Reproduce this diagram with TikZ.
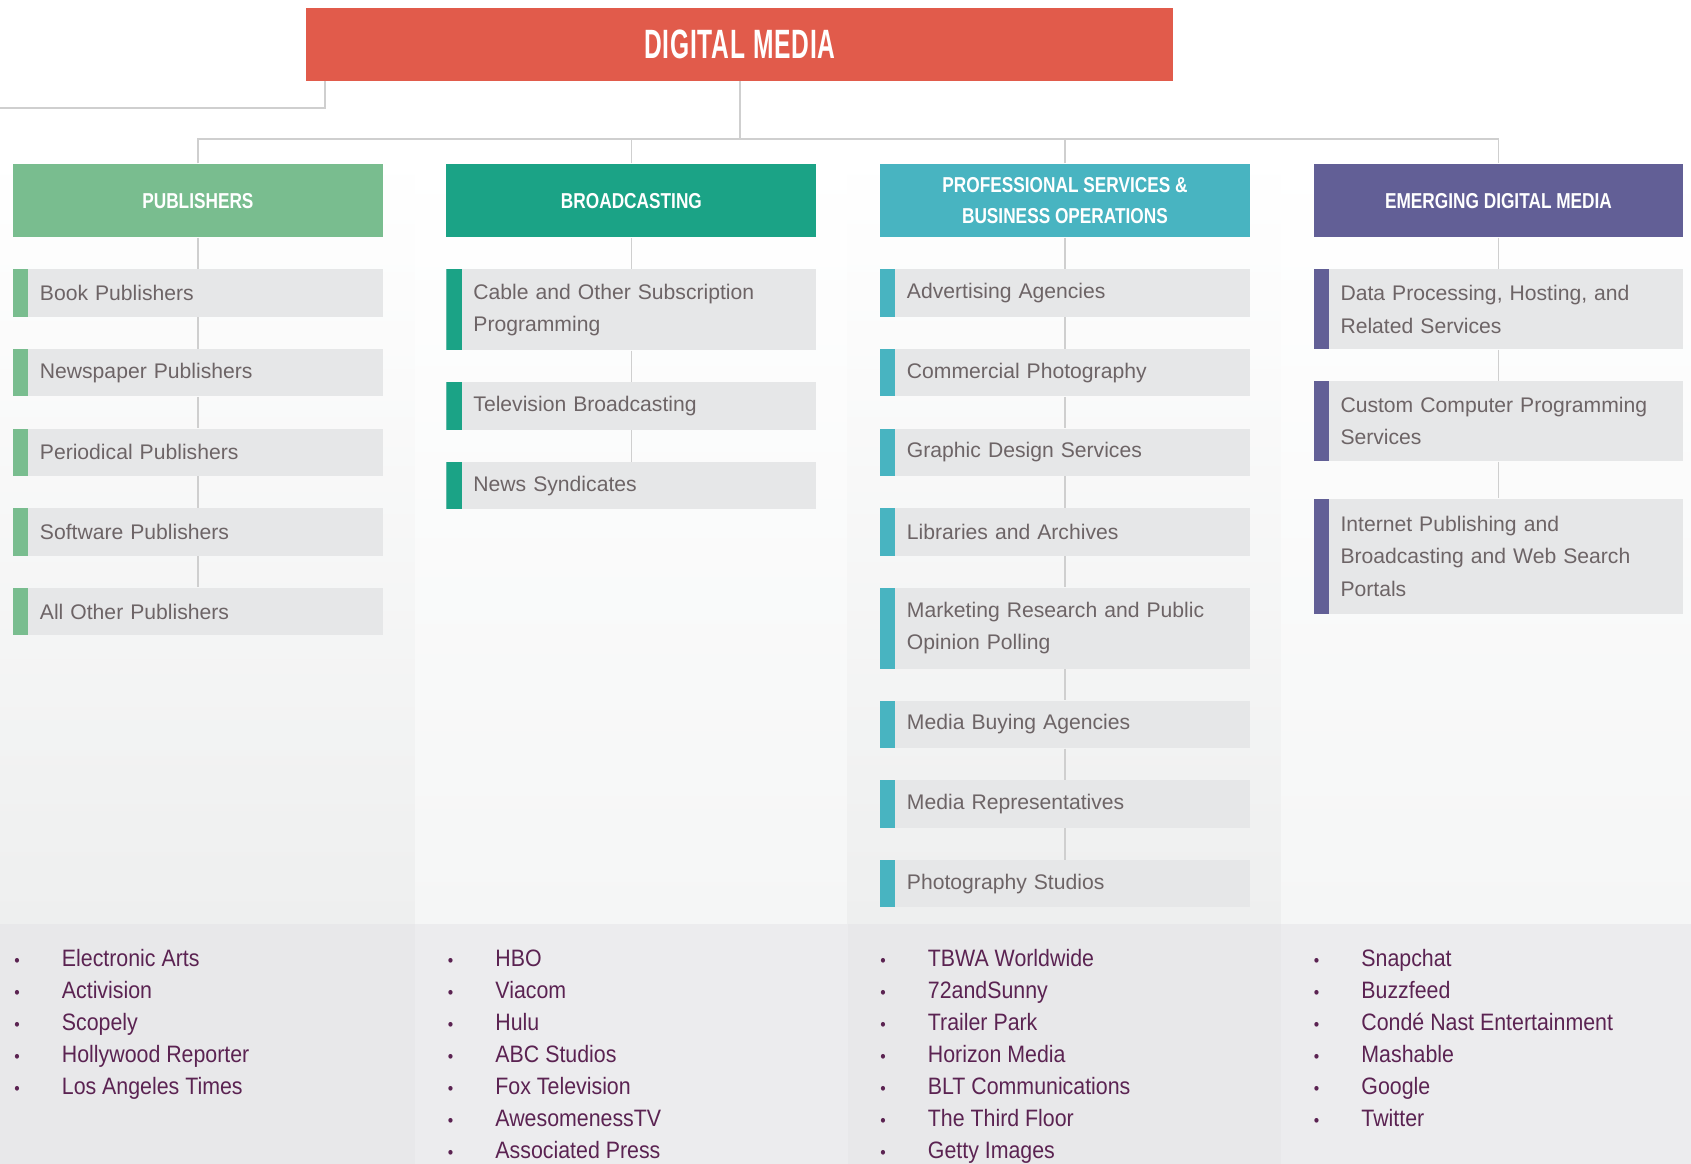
\documentclass[tikz,border=0pt]{standalone}
\usepackage{fontspec}
\setmainfont{Liberation Sans}
\newfontfamily\headfont[FakeStretch=0.8]{Liberation Sans}
\newfontfamily\titlefont[FakeStretch=0.6,LetterSpace=2]{Liberation Sans}
\newfontfamily\listfont[FakeStretch=0.9]{Liberation Sans}
\usepackage{tikz}
\usetikzlibrary{positioning}

\definecolor{mediared}{HTML}{E15B4B}
\definecolor{pubgreen}{HTML}{79BD8F}
\definecolor{brteal}{HTML}{1BA386}
\definecolor{procyan}{HTML}{48B4C1}
\definecolor{emgpurple}{HTML}{625F96}
\definecolor{itemgray}{HTML}{E6E7E8}
\definecolor{itemtext}{HTML}{6D6466}
\definecolor{listtext}{HTML}{5B2352}
\definecolor{linkgray}{HTML}{CFCFCF}
\definecolor{banddark}{HTML}{EEEFEF}
\definecolor{bandlight}{HTML}{F5F6F6}
\definecolor{footdark}{HTML}{E8E8EA}
\definecolor{footlight}{HTML}{ECECEE}

\newcommand{\blt}{\makebox[22pt][l]{\footnotesize\textbullet}}

\begin{document}
\begin{tikzpicture}[x=0.5pt, y=-0.5pt, node distance=14.5pt,
  head/.style={rectangle, fill=#1, minimum width=171.5pt, minimum height=34pt, inner sep=0pt, text=white, align=center, font=\headfont\bfseries\fontsize{10}{14.5}\selectfont},
  item/.style={rectangle, fill=itemgray, minimum width=171.5pt, minimum height=22pt, text width=146.5pt, inner xsep=12.5pt, inner ysep=6pt, align=left, text=itemtext, font=\fontsize{9.8}{15}\selectfont,
    path picture={\fill[#1] (path picture bounding box.south west) rectangle ([xshift=7pt]path picture bounding box.north west);}},
  tall/.style={minimum height=#1},
  link/.style={draw=linkgray, line width=0.8pt},
  list/.style={anchor=north west, inner sep=0pt, align=left, text=listtext, font=\listfont\fontsize{11}{14.85}\selectfont}]
  \useasboundingbox (0,0) rectangle (1568,1079);
  % background bands
  \fill[white] (0,0) rectangle (1568,1079);
  \shade[top color=white, bottom color=banddark] (0,140) rectangle (385,857);
  \shade[top color=white, bottom color=bandlight] (385,140) rectangle (786,857);
  \shade[top color=white, bottom color=banddark] (786,140) rectangle (1188,857);
  \shade[top color=white, bottom color=bandlight] (1188,140) rectangle (1568,857);
  \fill[footdark] (0,857) rectangle (385,1079);
  \fill[footlight] (385,857) rectangle (786,1079);
  \fill[footdark] (786,857) rectangle (1188,1079);
  \fill[footlight] (1188,857) rectangle (1568,1079);

  \node[rectangle, fill=mediared, minimum width=402pt, minimum height=34pt, text=white, font=\titlefont\bfseries\fontsize{19}{19}\selectfont] (media) at (686,41) {DIGITAL MEDIA};
  \coordinate (bus) at (686,129);
  \coordinate (stub) at (0,100);

  \node[head=pubgreen] (pub) at (183.5,186) {PUBLISHERS};
  \node[head=brteal] (brd) at (585.5,186) {BROADCASTING};
  \node[head=procyan] (pro) at (987.5,186) {PROFESSIONAL SERVICES \&\\BUSINESS OPERATIONS};
  \node[head=emgpurple] (emg) at (1389.5,186) {EMERGING DIGITAL MEDIA};

  \node[item=pubgreen, below=of pub] (book) {Book Publishers};
  \node[item=pubgreen, below=of book] (newsp) {Newspaper Publishers};
  \node[item=pubgreen, below=of newsp] (period) {Periodical Publishers};
  \node[item=pubgreen, below=of period] (soft) {Software Publishers};
  \node[item=pubgreen, below=of soft] (other) {All Other Publishers};

  \node[item=brteal, tall=37.5pt, below=of brd] (cable) {Cable and Other Subscription\\Programming};
  \node[item=brteal, below=of cable] (tv) {Television Broadcasting};
  \node[item=brteal, below=of tv] (synd) {News Syndicates};

  \node[item=procyan, below=of pro] (adv) {Advertising Agencies};
  \node[item=procyan, below=of adv] (comph) {Commercial Photography};
  \node[item=procyan, below=of comph] (graph) {Graphic Design Services};
  \node[item=procyan, below=of graph] (lib) {Libraries and Archives};
  \node[item=procyan, tall=37.5pt, below=of lib] (mark) {Marketing Research and Public\\Opinion Polling};
  \node[item=procyan, below=of mark] (buy) {Media Buying Agencies};
  \node[item=procyan, below=of buy] (rep) {Media Representatives};
  \node[item=procyan, below=of rep] (studio) {Photography Studios};

  \node[item=emgpurple, tall=37pt, below=of emg] (data) {Data Processing, Hosting, and\\Related Services};
  \node[item=emgpurple, tall=37pt, below=of data] (custom) {Custom Computer Programming\\Services};
  \node[item=emgpurple, tall=53.5pt, below=17pt of custom] (inet) {Internet Publishing and\\Broadcasting and Web Search\\Portals};

  \draw[link] ([xshift=9pt]media.south west) |- (stub);
  \draw[link] (media) -- (bus);
  \draw[link] (pub.north) |- (bus) -| (emg.north);
  \draw[link] (brd.north) -- (brd.north |- bus);
  \draw[link] (pro.north) -- (pro.north |- bus);
  \foreach \a/\b in {pub/book, book/newsp, newsp/period, period/soft, soft/other,
    brd/cable, cable/tv, tv/synd,
    pro/adv, adv/comph, comph/graph, graph/lib, lib/mark, mark/buy, buy/rep, rep/studio,
    emg/data, data/custom, custom/inet}
    \draw[link] (\a) -- (\b);

  \node[list] (publist) at (13,880) {\blt Electronic Arts\\\blt Activision\\\blt Scopely\\\blt Hollywood Reporter\\\blt Los Angeles Times};
  \node[list] (brdlist) at (415,880) {\blt HBO\\\blt Viacom\\\blt Hulu\\\blt ABC Studios\\\blt Fox Television\\\blt AwesomenessTV\\\blt Associated Press};
  \node[list] (prolist) at (816,880) {\blt TBWA Worldwide\\\blt 72andSunny\\\blt Trailer Park\\\blt Horizon Media\\\blt BLT Communications\\\blt The Third Floor\\\blt Getty Images};
  \node[list] (emglist) at (1218,880) {\blt Snapchat\\\blt Buzzfeed\\\blt Condé Nast Entertainment\\\blt Mashable\\\blt Google\\\blt Twitter};
\end{tikzpicture}
\end{document}
